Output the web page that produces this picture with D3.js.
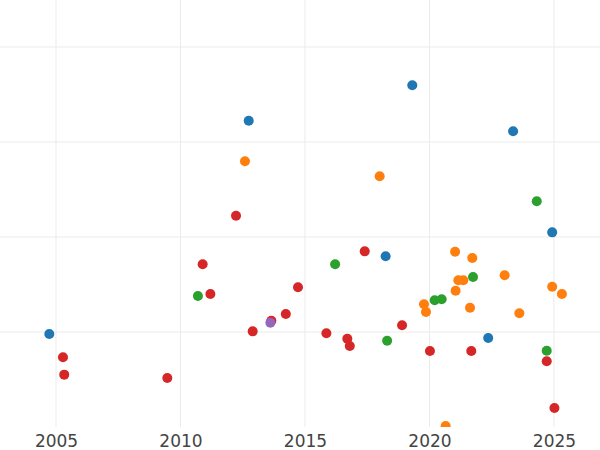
<!DOCTYPE html>
<html>
<head>
<meta charset="utf-8">
<script src="https://cdn.jsdelivr.net/npm/d3@7"></script>
<style>
  html, body { margin: 0; padding: 0; background: #fff; }
  svg { display: block; }
</style>
</head>
<body>
<svg id="chart" width="600" height="450"></svg>
<script>
// ---- data ----
const xTicks = [2005, 2010, 2015, 2020, 2025];
const yGrid = [1, 2, 3, 4];

const blueX = [2019.31, 2023.36, 2012.74, 2024.93, 2018.24, 2022.36, 2004.73];
const blueY = [3.597, 3.113, 3.224, 2.049, 1.797, 0.937, 0.979];

const orangeX = [2012.59, 2018.00, 2021.03, 2021.72, 2021.16, 2021.36, 2021.05, 2023.02, 2024.93, 2025.32, 2019.78, 2019.86, 2021.63, 2023.61, 2020.65];
const orangeY = [2.797, 2.639, 1.845, 1.779, 1.544, 1.544, 1.435, 1.597, 1.477, 1.400, 1.292, 1.211, 1.256, 1.197, 0.011];

const greenX = [2024.31, 2016.21, 2021.75, 2020.21, 2020.49, 2010.70, 2018.30, 2024.71];
const greenY = [2.376, 1.713, 1.579, 1.334, 1.344, 1.379, 0.908, 0.803];

const redX = [2012.23, 2010.89, 2011.20, 2017.40, 2014.72, 2014.23, 2013.65, 2012.90, 2015.86, 2016.70, 2016.80, 2018.90, 2020.02, 2021.68, 2024.71, 2025.02, 2005.28, 2005.33, 2009.47];
const redY = [2.224, 1.713, 1.400, 1.849, 1.471, 1.189, 1.119, 1.007, 0.986, 0.929, 0.853, 1.071, 0.800, 0.800, 0.692, 0.200, 0.734, 0.551, 0.516];

const purpleX = [2013.61];
const purpleY = [1.098];

const seriesNames = ["blue", "orange", "green", "red", "purple"];
const seriesColors = ["#1f77b4", "#ff7f0e", "#2ca02c", "#d62728", "#9467bd"];
const seriesXs = [blueX, orangeX, greenX, redX, purpleX];
const seriesYs = [blueY, orangeY, greenY, redY, purpleY];

// ---- layout ----
const W = 600, plotBottom = 427;
const svg = d3.select("#chart");

const x = d3.scaleLinear().domain([2002.75, 2026.85]).range([0, W]);
const y = d3.scaleLinear().domain([0, 4.495]).range([plotBottom, 0]);

svg.append("defs").append("clipPath").attr("id", "plotclip")
  .append("rect").attr("x", 0).attr("y", 0).attr("width", W).attr("height", plotBottom);

// grid
const grid = svg.append("g");
grid.selectAll("line.h").data(yGrid).join("line")
  .attr("x1", 0).attr("x2", W)
  .attr("y1", d => y(d)).attr("y2", d => y(d))
  .attr("stroke", "#ebebeb").attr("stroke-width", 1);
grid.selectAll("line.v").data(xTicks).join("line")
  .attr("x1", d => x(d)).attr("x2", d => x(d))
  .attr("y1", 0).attr("y2", plotBottom)
  .attr("stroke", "#ebebeb").attr("stroke-width", 1);

// points
const pts = svg.append("g").attr("clip-path", "url(#plotclip)");
seriesNames.forEach((name, i) => {
  const data = seriesXs[i].map((xv, j) => ({ x: xv, y: seriesYs[i][j] }));
  pts.append("g").selectAll("circle").data(data).join("circle")
    .attr("cx", d => x(d.x)).attr("cy", d => y(d.y))
    .attr("r", 5)
    .attr("fill", seriesColors[i]);
});

// x axis
const xAxis = d3.axisBottom(x).tickValues(xTicks).tickFormat(d3.format("d")).tickSize(0).tickPadding(0);
const ax = svg.append("g").attr("transform", `translate(0,${plotBottom})`).call(xAxis);
ax.select(".domain").remove();
ax.selectAll("text")
  .attr("dy", null)
  .attr("y", 19.7)
  .attr("fill", "#444")
  .style("font-family", "DejaVu Sans, sans-serif")
  .style("font-size", "17px");
</script>
</body>
</html>
